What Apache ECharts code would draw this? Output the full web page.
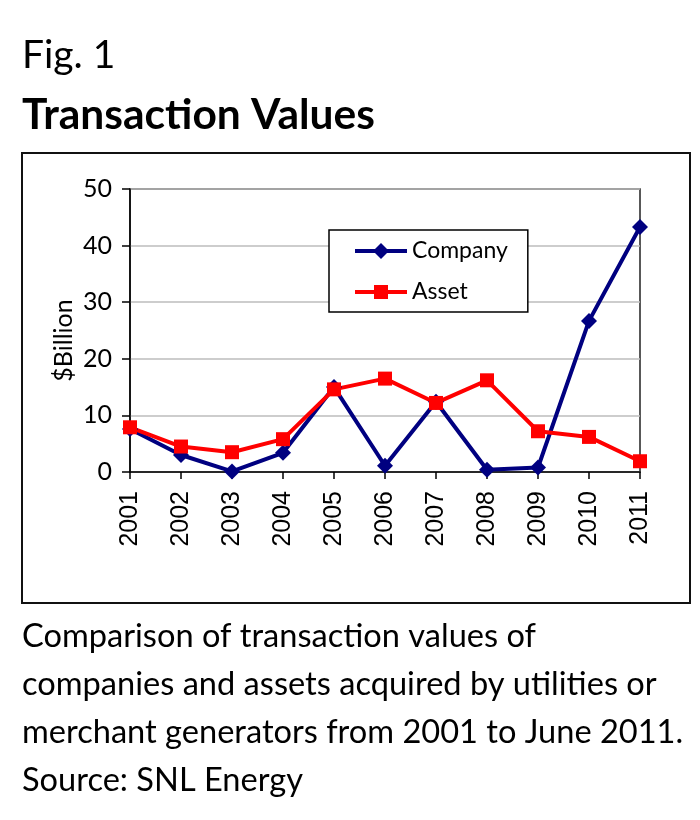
<!DOCTYPE html>
<html>
<head>
<meta charset="utf-8">
<script src="https://cdn.jsdelivr.net/npm/echarts@6/dist/echarts.min.js"></script>
<style>
html,body{margin:0;padding:0;background:#fff;}
#main{width:700px;height:820px;}
</style>
</head>
<body>
<div id="main"></div>
<script>
const years = ['2001','2002','2003','2004','2005','2006','2007','2008','2009','2010','2011'];
const company = [7.6, 3.0, 0.1, 3.4, 15.0, 1.1, 12.4, 0.4, 0.8, 26.7, 43.3];
const asset = [7.9, 4.5, 3.5, 5.8, 14.6, 16.5, 12.2, 16.2, 7.2, 6.2, 1.9];
const yTicks = {min: 0, max: 50, interval: 10};
const captionLines = [
  'Comparison of transaction values of',
  'companies and assets acquired by utilities or',
  'merchant generators from 2001 to June 2011.',
  'Source: SNL Energy'
];

const chart = echarts.init(document.getElementById('main'), null, {renderer: 'canvas'});
const calibri = 'Lato, "Open Sans", sans-serif';

const graphics = [
  {type: 'rect', shape: {x: 22, y: 153, width: 668, height: 450}, style: {fill: 'none', stroke: '#111', lineWidth: 2}, z: 0},
  {type: 'text', left: 22, top: 36, style: {text: 'Fig. 1', font: '39px ' + calibri, fill: '#000'}},
  {type: 'text', left: 22, top: 94, style: {text: 'Transaction Values', font: 'bold 42.5px ' + calibri, fill: '#000'}}
];
captionLines.forEach((t, i) => {
  graphics.push({type: 'text', left: 22, top: 620 + i * 48, style: {text: t, font: '32.6px ' + calibri, fill: '#000'}});
});

const companyIcon = 'path://M0,6L52,6L52,10L0,10Z M26,0L34,8L26,16L18,8Z';
const assetIcon = 'path://M0,6L52,6L52,10L0,10Z M19,1L33,1L33,15L19,15Z';

chart.setOption({
  animation: false,
  backgroundColor: '#fff',
  graphic: graphics,
  grid: {left: 130, right: 60, top: 189, bottom: 348, show: true, borderColor: '#222', borderWidth: 1.5, backgroundColor: 'transparent'},
  legend: {
    orient: 'vertical',
    left: 329, top: 230,
    data: [{name: 'Company', icon: companyIcon}, {name: 'Asset', icon: assetIcon}],
    borderColor: '#000', borderWidth: 1.5,
    padding: [9, 20, 8, 26],
    itemWidth: 52, itemHeight: 16, itemGap: 17,
    textStyle: {fontFamily: calibri, fontSize: 23, color: '#000', lineHeight: 24},
    backgroundColor: '#fff'
  },
  xAxis: {
    type: 'category', data: years, boundaryGap: false,
    axisLine: {lineStyle: {color: '#000', width: 1.5}},
    axisTick: {show: true, length: 7, interval: 0, lineStyle: {color: '#000', width: 1.5}},
    axisLabel: {rotate: 90, interval: 0, margin: 19, fontFamily: '"Liberation Sans", Arial, sans-serif', fontSize: 25, color: '#000'},
    splitLine: {show: false}
  },
  yAxis: {
    type: 'value', min: yTicks.min, max: yTicks.max, interval: yTicks.interval,
    name: '$Billion', nameLocation: 'middle', nameGap: 54, nameRotate: 90, nameMoveOverlap: false,
    nameTextStyle: {fontFamily: calibri, fontSize: 25, color: '#000', padding: [0, 20, 0, 0]},
    axisLine: {show: true, lineStyle: {color: '#000', width: 1.5}},
    axisTick: {show: true, length: 8, lineStyle: {color: '#000', width: 1.5}},
    axisLabel: {margin: 18, fontFamily: calibri, fontSize: 25, color: '#000'},
    splitLine: {lineStyle: {color: '#bdbdbd', width: 1.5}}
  },
  series: [
    {name: 'Company', type: 'line', data: company, symbol: 'diamond', symbolSize: 16,
     itemStyle: {color: '#000080'}, lineStyle: {color: '#000080', width: 4}},
    {name: 'Asset', type: 'line', data: asset, symbol: 'rect', symbolSize: 14,
     itemStyle: {color: '#ff0000'}, lineStyle: {color: '#ff0000', width: 4}}
  ]
});
</script>
</body>
</html>
